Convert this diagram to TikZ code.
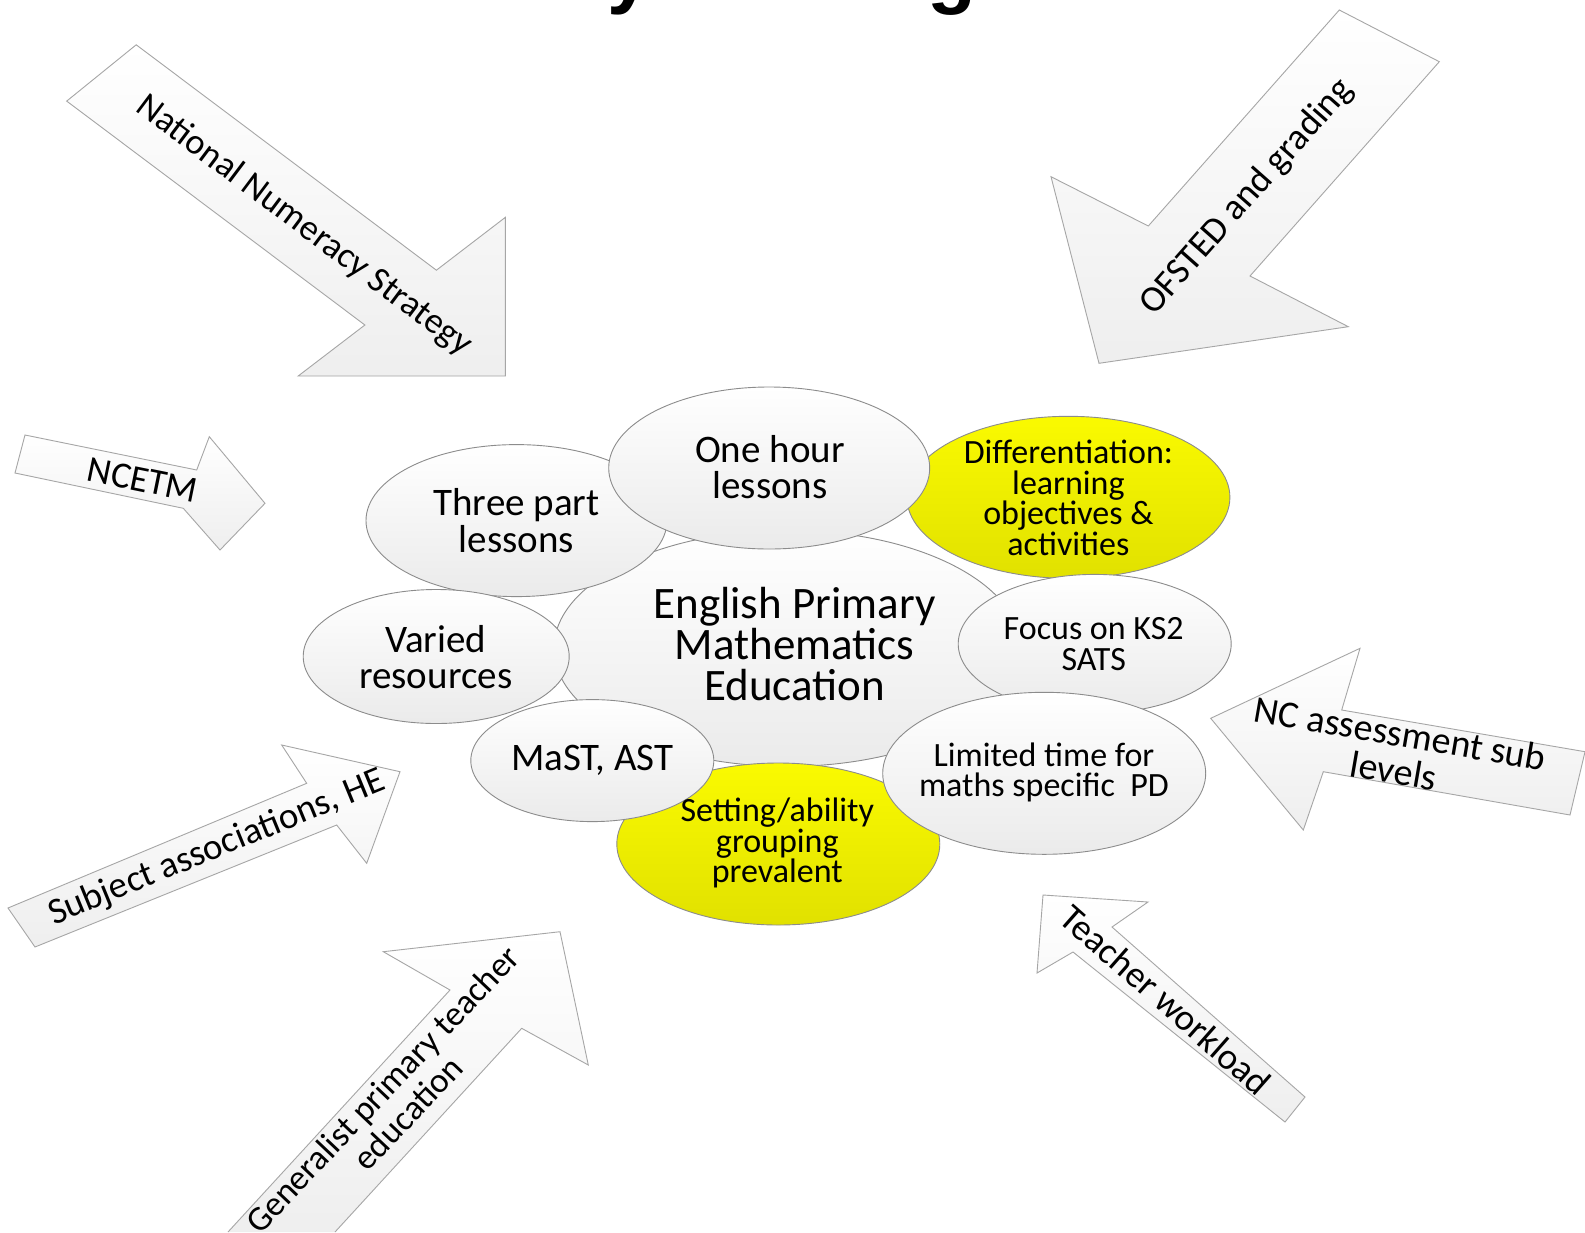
\documentclass[tikz,border=0pt]{standalone}
\usepackage{fontspec}
\setmainfont{Carlito}
\newfontfamily\titlefont{Liberation Sans}
\usetikzlibrary{shapes.geometric}
\definecolor{ellline}{gray}{0.55}
\definecolor{yelA}{RGB}{250,250,0}
\definecolor{yelB}{RGB}{225,225,0}
\tikzset{
  bub/.style={ellipse, draw=ellline, line width=0.9pt, inner sep=0pt, top color=white, bottom color=gray!16},
  ybub/.style={bub, top color=yelA, bottom color=yelB},
  blockarrow/.style={draw=gray!70, line width=0.9pt, top color=white, bottom color=gray!13, line join=miter},
  btext/.style={align=center, inner sep=0pt, text=black},
  fbig/.style={btext, font=\fontsize{45}{41}\selectfont},
  fmid/.style={btext, font=\fontsize{39}{36.4}\selectfont},
  fsmall/.style={btext, font=\fontsize{34}{30.5}\selectfont},
  farrow/.style={btext, font=\fontsize{37}{37}\selectfont},
  titlechar/.style={anchor=base, inner sep=0pt, font=\titlefont\bfseries\fontsize{80}{80}\selectfont},
}
\begin{document}
\begin{tikzpicture}[x=1pt,y=-1pt]
\useasboundingbox (0,0) rectangle (1585,1232);
\fill[white] (0,0) rectangle (1585,1232);
% title fragments (cut by the top edge)
\begin{scope}
\clip (0,0) rectangle (1585,1232);
\node[titlechar] (tity) at (630,-2) {y};
\node[titlechar] (titg) at (952,-2) {g};
\end{scope}
% ---------- block arrows ----------
% National Numeracy Strategy
\draw[blockarrow] (66.7,101.1) -- (136.2,44.8) -- (436.4,270.2) -- (505.4,217.3) -- (505.4,376) -- (298.2,376) -- (364.9,325) -- cycle;
\node[btext, font=\fontsize{36}{36}\selectfont, rotate=-36.9] (nns) at (304,226) {National Numeracy Strategy};
% OFSTED and grading
\draw[blockarrow] (1339.3,10) -- (1439.3,61.7) -- (1250,276) -- (1348.3,326.7) -- (1099,363.3) -- (1051,176.7) -- (1148.3,226) -- cycle;
\node[farrow, rotate=48.5] (ofsted) at (1247,197) {OFSTED and grading};
% NCETM
\draw[blockarrow] (25,435) -- (196.7,470) -- (209.3,436.7) -- (265,503.3) -- (220,550) -- (183.3,508.3) -- (15,473) -- cycle;
\node[farrow, rotate=-11.5] (ncetm) at (142.7,480) {NCETM};
% NC assessment sub levels
\draw[blockarrow] (1210.7,718.3) -- (1360,648.3) -- (1341.7,710) -- (1585,751.7) -- (1570,815) -- (1323.3,771.7) -- (1303.3,830) -- cycle;
\node[btext, font=\fontsize{38}{38}\selectfont, rotate=-9.8] (ncass) at (1397,752) {NC assessment sub\\levels};
% Subject associations, HE
\draw[blockarrow] (8,908) -- (306.7,783.3) -- (281.7,745) -- (400,771.7) -- (366.7,863.3) -- (336.7,825) -- (35,947) -- cycle;
\node[farrow, rotate=22.3] (subj) at (217,848) {Subject associations, HE};
% Generalist primary teacher education
\draw[blockarrow] (228,1232) -- (450,990) -- (383.3,951.7) -- (560,931.7) -- (588.3,1065) -- (521.7,1028.3) -- (335,1232);
\node[btext, font=\fontsize{35}{35}\selectfont, rotate=46.5] (gen) at (395,1101) {Generalist primary teacher\\education};
% Teacher workload
\draw[blockarrow] (1043,895) -- (1148,902) -- (1112,927) -- (1305,1097) -- (1285,1122) -- (1073,952) -- (1037,973) -- cycle;
\node[farrow, rotate=-41.4] (workload) at (1166,1000) {Teacher workload};
% ---------- ellipses ----------
\node[bub, minimum width=467, minimum height=236] (centreE) at (787.4,648.4) {};
\node[ybub, minimum width=323, minimum height=162] (diffE) at (1068.4,497.3) {};
\node[bub, minimum width=301, minimum height=152] (threeE) at (516.5,520.6) {};
\node[bub, minimum width=321, minimum height=162] (oneE) at (769.2,468) {};
\node[bub, minimum width=273, minimum height=139] (focusE) at (1094.7,643.9) {};
\node[ybub, minimum width=323, minimum height=162] (setE) at (778.3,844) {};
\node[bub, minimum width=323, minimum height=162] (limE) at (1044.2,773.3) {};
\node[bub, minimum width=243, minimum height=122] (mastE) at (592.3,760.6) {};
\node[bub, minimum width=266, minimum height=134] (variedE) at (436.2,656.5) {};
% ---------- texts ----------
\node[fbig] (centre) at (794.5,644.4) {English Primary\\Mathematics\\Education};
\node[fsmall] (diff) at (1068.4,497.8) {Differentiation:\\learning\\objectives \&\\activities};
\node[fmid] (three) at (516.5,520.6) {Three part\\lessons};
\node[fmid] (one) at (770,467) {One hour\\lessons};
\node[fsmall] (focus) at (1093.7,643.9) {Focus on KS2\\SATS};
\node[fsmall] (setting) at (777.3,843) {Setting/ability\\grouping\\prevalent};
\node[fsmall] (limited) at (1044,772.3) {Limited time for\\maths specific\ \ PD};
\node[fmid] (mast) at (592.3,760) {MaST, AST};
\node[fmid] (varied) at (435.7,657) {Varied\\resources};
\end{tikzpicture}
\end{document}
